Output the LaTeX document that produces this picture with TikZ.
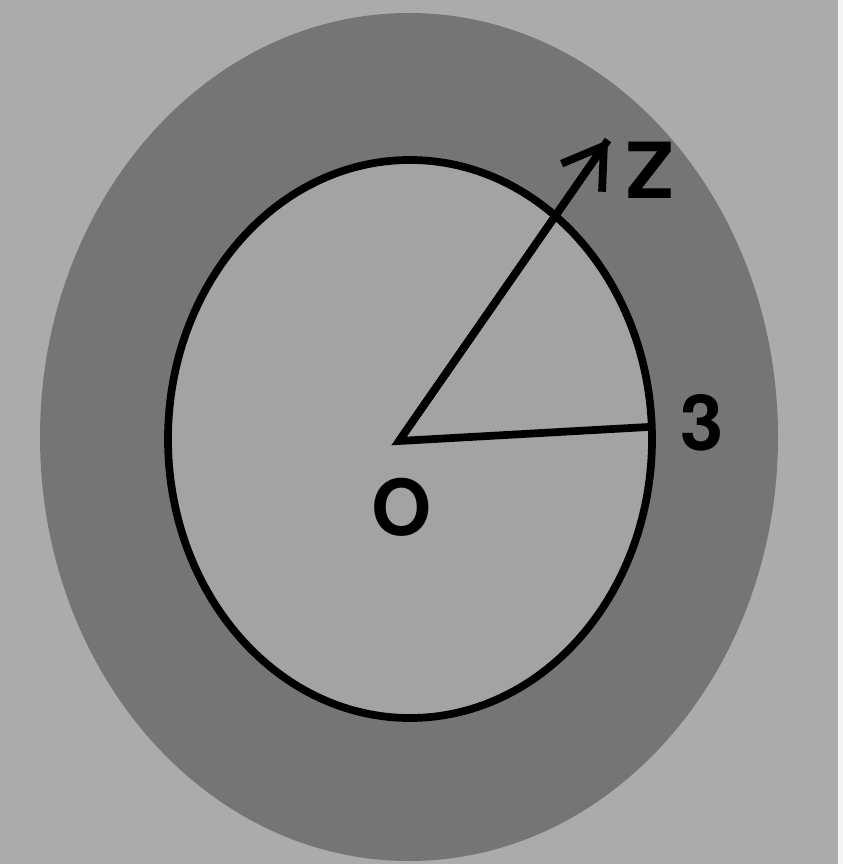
\documentclass[tikz,border=0pt]{standalone}
\usepackage{fontspec}
\setmainfont{TeX Gyre Heros}
\usetikzlibrary{arrows.meta}
\definecolor{bggray}{gray}{0.67}
\definecolor{ringgray}{gray}{0.46}
\definecolor{diskgray}{gray}{0.64}
\tikzset{
  ink/.style={line width=2.2pt, draw=black},
  lbl/.style={font=\fontsize{22}{24}\selectfont\bfseries, text=black, inner sep=0pt}
}
\begin{document}
\begin{tikzpicture}[x=0.01cm,y=-0.01cm]
\useasboundingbox (0,0) rectangle (843,864);
\fill[bggray] (0,0) rectangle (838,864);
\fill[white!92!gray] (838,0) rectangle (843,864);
% outer dark disk
\fill[ringgray] (409,437) ellipse [x radius=369, y radius=424];
% inner disk
\fill[diskgray] (410,439) ellipse [x radius=242, y radius=279];
\draw[ink] (410,439) ellipse [x radius=242, y radius=279];
\coordinate (O) at (399,441);
\coordinate (P3) at (648,427);
\coordinate (Ztip) at (608,140);
\draw[ink, line join=miter] (P3) -- (O) -- (Ztip);
\draw[ink, -{Straight Barb[length=11pt,width=14pt,line width=2.2pt]}] (O) -- (Ztip);
\node[lbl] (Zl) at (650,170) {Z};
\node[lbl] (Tl) at (702,423) {3};
\node[lbl] (Ol) at (402,507) {O};
\end{tikzpicture}
\end{document}
